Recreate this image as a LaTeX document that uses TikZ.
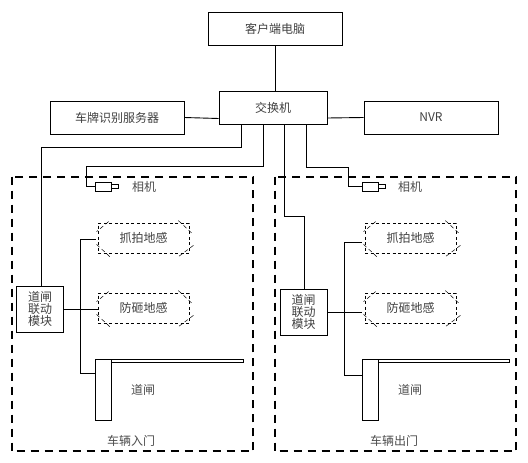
\documentclass[tikz,border=0pt]{standalone}
\usepackage{fontspec}
\setmainfont{Noto Sans CJK SC}
\usetikzlibrary{positioning}

\begin{document}
\begin{tikzpicture}[
    x=1pt, y=-1pt,
    box/.style={rectangle, draw, line width=0.9pt, minimum width=134pt, minimum height=33pt,
                inner sep=0pt, font=\fontsize{12}{14}\selectfont, text=black!75},
    module/.style={rectangle, draw, line width=0.9pt, minimum width=47pt, minimum height=46pt,
                   inner sep=0pt, align=center,
                   font=\fontsize{12}{12}\selectfont, text=black!75},
    sensor/.style={rectangle, draw, line width=0.8pt, dash pattern=on 3pt off 2.5pt,
                   minimum width=91pt, minimum height=30pt, inner sep=0pt,
                   font=\fontsize{12}{14}\selectfont, text=black!75},
    chamfer/.style={draw, line width=0.5pt, dash pattern=on 4pt off 3pt},
    label/.style={inner sep=0pt, font=\fontsize{12}{14}\selectfont, text=black!70},
    zone/.style={draw, line width=2pt, dash pattern=on 8.5pt off 5.5pt},
    part/.style={rectangle, draw, line width=0.9pt, inner sep=0pt},
    wire/.style={draw, line width=0.9pt},
]
\useasboundingbox (0,0) rectangle (528,463);

% top row
\node[box] (client) at (275,29) {客户端电脑};
\node[box, minimum width=108pt] (switch) at (273,107.5) {交换机};
\node[box] (server) at (117,117.5) {车牌识别服务器};
\node[box] (nvr) at (431,117.5) {NVR};

% entrance zone
\node[part, minimum width=241pt, minimum height=274pt, draw=none] (zoneA) at (132.5,314) {};
\draw[zone] (zoneA.north west) rectangle (zoneA.south east);
\node[module] (moduleA) at (40,309) {道闸\\联动\\模块};
\node[part, minimum width=16pt, minimum height=9pt] (camA) at (103,186.5) {};
\node[part, minimum width=7pt, minimum height=3.5pt, right=0pt of camA] (lensA) {};
\node[label] (camtextA) at (144,187) {相机};
\node[sensor] (snapA) at (143.5,238) {抓拍地感};
\node[sensor] (guardA) at (143.5,308) {防砸地感};
\node[part, minimum width=16pt, minimum height=61pt] (postA) at (103,389.5) {};
\node[part, minimum width=132pt, minimum height=3pt, anchor=north west] (armA) at (postA.north east) {};
\node[label] (gateA) at (143,390) {道闸};
\node[label] (nameA) at (131,441) {车辆入门};

% exit zone
\node[part, minimum width=241pt, minimum height=274pt, draw=none] (zoneB) at (395.5,314) {};
\draw[zone] (zoneB.north west) rectangle (zoneB.south east);
\node[module] (moduleB) at (303.5,312) {道闸\\联动\\模块};
\node[part, minimum width=16pt, minimum height=9pt] (camB) at (370,186.5) {};
\node[part, minimum width=7pt, minimum height=3.5pt, right=0pt of camB] (lensB) {};
\node[label] (camtextB) at (410,187) {相机};
\node[sensor] (snapB) at (410.5,238) {抓拍地感};
\node[sensor] (guardB) at (410.5,308) {防砸地感};
\node[part, minimum width=16pt, minimum height=61pt] (postB) at (370,389.5) {};
\node[part, minimum width=131pt, minimum height=3pt, anchor=north west] (armB) at (postB.north east) {};
\node[label] (gateB) at (410,390) {道闸};
\node[label] (nameB) at (394,441) {车辆出门};

% sensor corners
\foreach \s in {snapA,guardA,snapB,guardB} {
  \draw[chamfer] (\s.north west) ++(11,-1) -- ++(-12,10);
  \draw[chamfer] (\s.south west) ++(-1,-9) -- ++(15,14);
  \draw[chamfer] (\s.north east) ++(-11,-2) -- ++(15,14);
  \draw[chamfer] (\s.south east) ++(4,-8) -- ++(-16,12);
}

% links to the switch
\draw[wire] (client.south) -- (client.south |- switch.north);
\draw[wire] (server.east) -- (switch.west |- 0,118.5);
\draw[wire] (switch.east |- 0,118) -- (nvr.west);
\draw[wire] (241.5,124) |- (41,147) -- (moduleA.north -| 41,0);
\draw[wire] (263,124) |- (86.5,166) |- (camA.west);
\draw[wire] (284,124) |- (304,216) -- (304,289);
\draw[wire] (306,124) |- (348,167) |- (camB.west);

% entrance wiring
\draw[wire] (snapA.west) ++(-2,1) -| (80.5,373) -- (postA.west |- 0,373);
\draw[wire] (moduleA.east) -- (guardA.west |- moduleA.east);

% exit wiring
\draw[wire] (snapB.west |- 0,242) ++(-3,0) -| (344,375) -- (postB.west |- 0,375);
\draw[wire] (moduleB.east) -- ++(35,0);

\end{tikzpicture}
\end{document}
